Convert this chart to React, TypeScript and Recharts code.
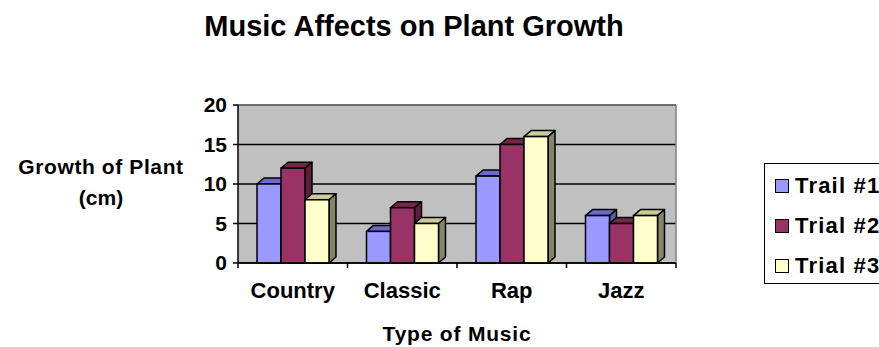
import React from 'react';
import { BarChart, Bar, XAxis, YAxis, CartesianGrid, Legend, ReferenceLine, usePlotArea } from 'recharts';

const CATEGORIES = ['Country', 'Classic', 'Rap', 'Jazz'];
const TRIAL_1 = [10, 4, 11, 6];
const TRIAL_2 = [12, 7, 15, 5];
const TRIAL_3 = [8, 5, 16, 6];
const SERIES_NAMES = ['Trail #1', 'Trial #2', 'Trial #3'];
const Y_TICKS = [0, 5, 10, 15, 20];

const data = CATEGORIES.map((name, i) => ({ name, t1: TRIAL_1[i], t2: TRIAL_2[i], t3: TRIAL_3[i] }));

const FRONT = ['#9999FF', '#993366', '#FFFFCC'];
const TOP = ['#6B6BCC', '#732648', '#CCCC99'];
const SIDE = ['#5C5CA8', '#5E1F3D', '#85856A'];
const FONT = '"Liberation Sans", Arial, sans-serif';
const DX = 7;
const DY = 6;

const makeShape = (idx: number) => (props: any) => {
  const { x, y, width, height } = props;
  if (height == null || height <= 0) return null;
  const top = `${x},${y} ${x + DX},${y - DY} ${x + width + DX},${y - DY} ${x + width},${y}`;
  const side = `${x + width},${y} ${x + width + DX},${y - DY} ${x + width + DX},${y + height - DY} ${x + width},${y + height}`;
  return (
    <g>
      <polygon points={top} fill={TOP[idx]} stroke="#000" strokeWidth={1.5} strokeLinejoin="round" />
      <polygon points={side} fill={SIDE[idx]} stroke="#000" strokeWidth={1.5} strokeLinejoin="round" />
      <rect x={x} y={y} width={width} height={height} fill={FRONT[idx]} stroke="#000" strokeWidth={1.5} />
    </g>
  );
};

function BoundaryTicks() {
  const area = usePlotArea();
  if (!area) return null;
  const n = CATEGORIES.length;
  const yb = area.y + area.height;
  return (
    <g>
      {Array.from({ length: n + 1 }, (_, i) => {
        const x = area.x + (area.width * i) / n;
        return <line key={i} x1={x} x2={x} y1={yb} y2={yb + 5} stroke="#000" strokeWidth={1.5} />;
      })}
      <line x1={area.x + area.width} x2={area.x + area.width} y1={area.y} y2={yb} stroke="#808080" strokeWidth={1.5} />
    </g>
  );
}

function LegendBox() {
  return (
    <div style={{ border: '1px solid #000', width: 140, height: 121, boxSizing: 'border-box', padding: '2px 0 0 10px', fontFamily: FONT, background: '#fff' }}>
      {SERIES_NAMES.map((n, i) => (
        <div key={n} style={{ display: 'flex', alignItems: 'center', height: 40 }}>
          <div style={{ width: 12, height: 12, background: FRONT[i], border: '1px solid #000', marginRight: 6 }} />
          <span style={{ fontWeight: 700, fontSize: 22, color: '#000', letterSpacing: 1.2 }}>{n}</span>
        </div>
      ))}
    </div>
  );
}

export default function App() {
  return (
    <div style={{ position: 'absolute', left: 0, top: 0, width: 879, height: 347, overflow: 'hidden', background: '#fff', fontFamily: FONT }}>
      <BarChart
        width={879}
        height={347}
        data={data}
        margin={{ top: 105, right: 203, bottom: 54, left: 188 }}
        barGap={0}
        barCategoryGap={19}
      >
        <CartesianGrid fill="#C0C0C0" fillOpacity={1} vertical={false} stroke="#000" strokeWidth={1.5} strokeOpacity={1} />
        <ReferenceLine y={20} stroke="#808080" strokeWidth={1.5} />
        <XAxis
          dataKey="name"
          height={30}
          tickLine={false}
          tickSize={6}
          axisLine={{ stroke: '#000', strokeWidth: 1.5 }}
          tick={{ fill: '#000', fontSize: 22, fontWeight: 700, fontFamily: FONT }}
          tickMargin={13}
        />
        <YAxis
          width={50}
          domain={[0, 20]}
          ticks={Y_TICKS}
          interval={0}
          tickSize={5}
          tickLine={{ stroke: '#000', strokeWidth: 1.5 }}
          axisLine={{ stroke: '#000', strokeWidth: 1.5 }}
          tick={{ fill: '#000', fontSize: 21, fontWeight: 700, fontFamily: FONT }}
          tickMargin={6}
        />
        <Bar dataKey="t1" name={SERIES_NAMES[0]} fill={FRONT[0]} shape={makeShape(0)} isAnimationActive={false} />
        <Bar dataKey="t2" name={SERIES_NAMES[1]} fill={FRONT[1]} shape={makeShape(1)} isAnimationActive={false} />
        <Bar dataKey="t3" name={SERIES_NAMES[2]} fill={FRONT[2]} shape={makeShape(2)} isAnimationActive={false} />
        <BoundaryTicks />
        <Legend
          layout="vertical"
          align="center"
          verticalAlign="middle"
          content={() => <LegendBox />}
          wrapperStyle={{ position: 'absolute', left: 764, top: 163, width: 140, height: 121 }}
        />
        <text x={414} y={36} textAnchor="middle" fontFamily={FONT} fontWeight={700} fontSize={29} fill="#000">
          Music Affects on Plant Growth
        </text>
        <text x={101} y={174} textAnchor="middle" fontFamily={FONT} fontWeight={700} fontSize={21} fill="#000" letterSpacing={0.6}>
          Growth of Plant
        </text>
        <text x={101} y={205} textAnchor="middle" fontFamily={FONT} fontWeight={700} fontSize={21} fill="#000">
          (cm)
        </text>
        <text x={457} y={341} textAnchor="middle" fontFamily={FONT} fontWeight={700} fontSize={21} fill="#000" letterSpacing={0.8}>
          Type of Music
        </text>
      </BarChart>
    </div>
  );
}
